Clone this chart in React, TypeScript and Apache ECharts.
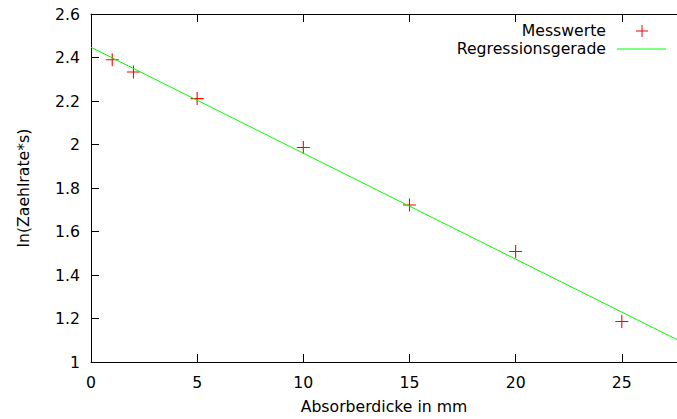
import React, { useEffect, useRef } from "react";
import * as echarts from "echarts";

const xValues = [1, 2, 5, 10, 15, 20, 25];
const yValues = [2.39, 2.333, 2.211, 1.986, 1.722, 1.508, 1.186];
const regIntercept = 2.447;
const regSlope = -0.0487;
const regX = [0, 27.6];
const xTicks = [0, 5, 10, 15, 20, 25];
const yTicks = [1, 1.2, 1.4, 1.6, 1.8, 2, 2.2, 2.4, 2.6];

const FONT = "DejaVu Sans";
const FS = 15.7;
const crossPath = "path://M0,5.5h12v1h-12z M5.5,0h1v12h-1z";

export default function App() {
  const ref = useRef<HTMLDivElement>(null);
  useEffect(() => {
    if (!ref.current) return;
    const chart = echarts.init(ref.current, undefined, { renderer: "svg" });
    const xMax = regX[1];
    const common = {
      min: 0,
      max: xMax,
      interval: 5,
      axisLine: { show: true, onZero: false, lineStyle: { color: "#000", width: 1 } },
      axisTick: { show: true, inside: true, length: 8, lineStyle: { color: "#000" } },
      splitLine: { show: false },
    };
    chart.setOption({
      animation: false,
      backgroundColor: "#fff",
      textStyle: { fontFamily: FONT },
      grid: { left: 91, top: 14, right: 0, bottom: 56, containLabel: false },
      xAxis: [
        {
          ...common,
          type: "value",
          position: "bottom",
          name: "Absorberdicke in mm",
          nameLocation: "middle",
          nameGap: 44,
          nameTextStyle: { fontFamily: FONT, fontSize: FS, color: "#000", verticalAlign: "middle" },
          axisLabel: {
            fontFamily: FONT,
            fontSize: FS,
            color: "#000",
            margin: 12,
            showMaxLabel: false,
            formatter: (v: number) => (xTicks.includes(v) ? String(v) : ""),
          },
        },
        {
          ...common,
          type: "value",
          position: "top",
          axisLabel: { show: false },
        },
      ],
      yAxis: {
        type: "value",
        min: yTicks[0],
        max: yTicks[yTicks.length - 1],
        interval: 0.2,
        name: "ln(Zaehlrate*s)",
        nameLocation: "middle",
        nameGap: 68,
        nameRotate: 90,
        nameTextStyle: { fontFamily: FONT, fontSize: FS, color: "#000", verticalAlign: "middle" },
        axisLine: { show: true, lineStyle: { color: "#000", width: 1 } },
        axisTick: { show: true, inside: true, length: 8, lineStyle: { color: "#000" } },
        splitLine: { show: false },
        axisLabel: {
          fontFamily: FONT,
          fontSize: FS,
          color: "#000",
          margin: 11,
          formatter: (v: number) => String(Math.round(v * 10) / 10),
        },
      },
      series: [
        {
          type: "line",
          data: regX.map((x) => [x, regIntercept + regSlope * x]),
          showSymbol: false,
          symbol: "none",
          lineStyle: { color: "#00ff00", width: 1 },
          silent: true,
          z: 3,
        },
        {
          type: "scatter",
          data: xValues.map((x, i) => [x, yValues[i]]),
          symbol: crossPath,
          symbolSize: 13,
          itemStyle: { color: "#ff0000", opacity: 1 },
          z: 2,
        },
      ],
      graphic: [
        {
          type: "text",
          right: 71,
          top: 22,
          style: { text: "Messwerte", font: `${FS}px "${FONT}"`, fill: "#000" },
        },
        {
          type: "line",
          shape: { x1: 636, y1: 31, x2: 648, y2: 31 },
          style: { stroke: "#ff0000", lineWidth: 1 },
        },
        {
          type: "line",
          shape: { x1: 642, y1: 25, x2: 642, y2: 37 },
          style: { stroke: "#ff0000", lineWidth: 1 },
        },
        {
          type: "text",
          right: 71,
          top: 40,
          style: { text: "Regressionsgerade", font: `${FS}px "${FONT}"`, fill: "#000" },
        },
        {
          type: "line",
          shape: { x1: 617, y1: 49, x2: 666, y2: 49 },
          style: { stroke: "#00ff00", lineWidth: 1 },
        },
      ],
    });
    return () => chart.dispose();
  }, []);
  return (
    <div
      ref={ref}
      style={{ position: "fixed", left: 0, top: 0, width: 677, height: 419 }}
    />
  );
}
